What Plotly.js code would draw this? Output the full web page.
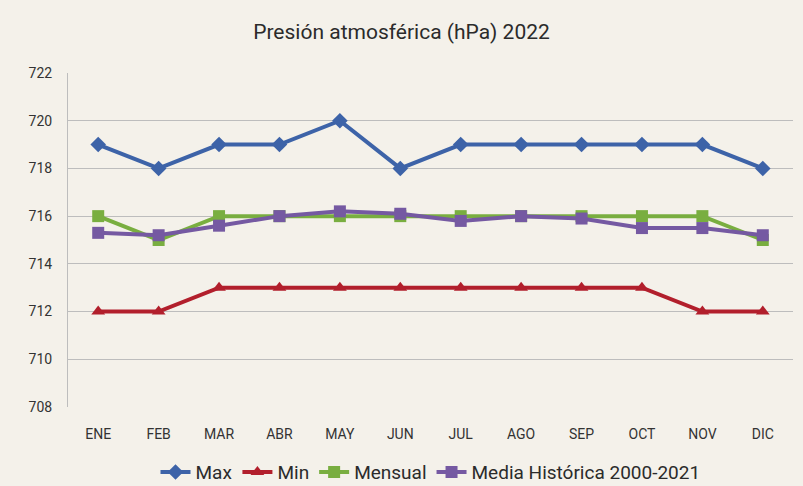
<!DOCTYPE html>
<html>
<head>
<meta charset="utf-8">
<script src="https://cdn.plot.ly/plotly-3.0.1.min.js"></script>
<style>
  html, body { margin: 0; padding: 0; background: #f4f1ea; }
  #chart { width: 803px; height: 486px; }
</style>
</head>
<body>
<div id="chart"></div>
<script>
// Presión atmosférica 2022 - valores mensuales
const meses = ['ENE', 'FEB', 'MAR', 'ABR', 'MAY', 'JUN', 'JUL', 'AGO', 'SEP', 'OCT', 'NOV', 'DIC'];
const maxVals = [719, 718, 719, 719, 720, 718, 719, 719, 719, 719, 719, 718];
const minVals = [712, 712, 713, 713, 713, 713, 713, 713, 713, 713, 712, 712];
const mensualVals = [716, 715, 716, 716, 716, 716, 716, 716, 716, 716, 716, 715];
const mediaVals = [715.3, 715.2, 715.6, 716.0, 716.2, 716.1, 715.8, 716.0, 715.9, 715.5, 715.5, 715.2];

const fuente = 'Liberation Sans Narrow, Arial Narrow, Roboto, sans-serif';

function serie(nombre, valores, color, simbolo) {
    return {
        x: meses,
        y: valores,
        name: nombre,
        type: 'scatter',
        mode: 'lines+markers',
        line: { color: color, width: 4 },
        marker: { color: color, symbol: simbolo, size: 12 }
    };
}

const data = [
    serie('Max', maxVals, '#3d63a8', 'diamond'),
    serie('Min', minVals, '#b21f2c', 'triangle-up'),
    serie('Mensual', mensualVals, '#79ae40', 'square'),
    serie('Media Histórica 2000-2021', mediaVals, '#7559a2', 'square')
];

const layout = {
    width: 803,
    height: 486,
    paper_bgcolor: '#f4f1ea',
    plot_bgcolor: '#f4f1ea',
    font: { family: fuente, color: '#333333', size: 14 },
    title: {
        text: 'Presión atmosférica (hPa) 2022',
        x: 0.5,
        xanchor: 'center',
        y: 0.935,
        yanchor: 'middle',
        font: { family: fuente, size: 21, color: '#2b2b2b' }
    },
    margin: { l: 68, r: 10, t: 73, b: 79, autoexpand: false },
    xaxis: {
        type: 'category',
        range: [-0.5, 11.5],
        showgrid: false,
        zeroline: false,
        showline: false,
        ticks: '',
        ticklabelstandoff: 17,
        tickfont: { family: fuente, size: 14, color: '#333333' }
    },
    yaxis: {
        range: [708, 722],
        dtick: 2,
        showgrid: true,
        gridcolor: '#bdbdbd',
        gridwidth: 1,
        zeroline: false,
        showline: true,
        linecolor: '#bdbdbd',
        linewidth: 1,
        ticks: '',
        ticklabelstandoff: 12,
        tickfont: { family: fuente, size: 14, color: '#333333' }
    },
    showlegend: true,
    legend: {
        orientation: 'h',
        x: 0.5,
        xanchor: 'center',
        y: -0.195,
        yanchor: 'middle',
        font: { family: fuente, size: 19, color: '#2b2b2b' },
        itemwidth: 30,
        tracegroupgap: 0,
        bgcolor: 'rgba(0,0,0,0)'
    }
};

Plotly.newPlot('chart', data, layout, { displayModeBar: false, staticPlot: true });
</script>
</body>
</html>
